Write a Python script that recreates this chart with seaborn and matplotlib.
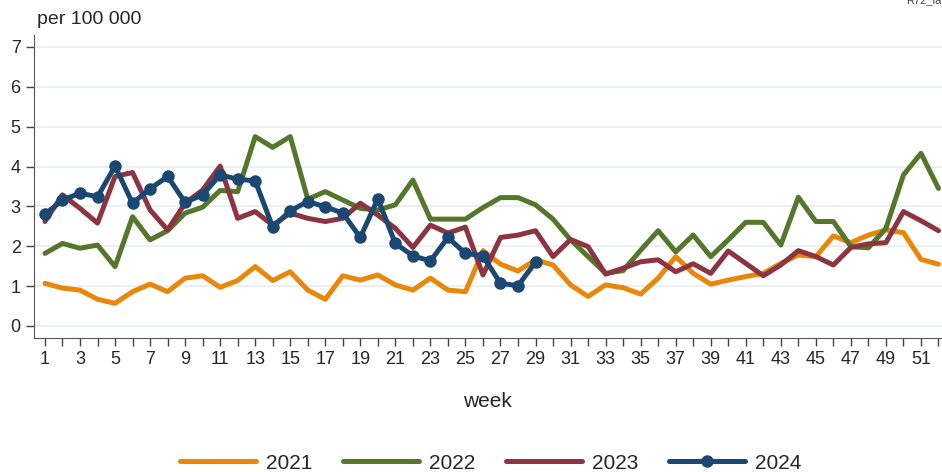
import matplotlib
matplotlib.use("Agg")
import matplotlib.pyplot as plt
import seaborn as sns

# --- data (rate per 100 000, by week) ---
weeks = list(range(1, 53))
weeks_2024 = list(range(1, 30))

rate_2021 = [1.07, 0.95, 0.90, 0.67, 0.57, 0.86, 1.05, 0.86, 1.20, 1.26,
             0.97, 1.14, 1.49, 1.14, 1.36, 0.90, 0.67, 1.26, 1.15, 1.28,
             1.03, 0.90, 1.20, 0.90, 0.86, 1.89, 1.55, 1.38, 1.66, 1.53,
             1.03, 0.74, 1.03, 0.96, 0.80, 1.20, 1.74, 1.32, 1.05, 1.15,
             1.24, 1.32, 1.57, 1.78, 1.74, 2.26, 2.09, 2.28, 2.41, 2.34,
             1.67, 1.55]
rate_2022 = [1.82, 2.07, 1.95, 2.03, 1.49, 2.74, 2.16, 2.39, 2.83, 2.98,
             3.40, 3.37, 4.75, 4.48, 4.75, 3.18, 3.37, 3.16, 2.95, 2.91,
             3.04, 3.66, 2.68, 2.68, 2.68, 2.97, 3.22, 3.22, 3.04, 2.68,
             2.16, 1.74, 1.32, 1.39, 1.90, 2.39, 1.86, 2.28, 1.74, 2.16,
             2.60, 2.60, 2.03, 3.23, 2.62, 2.62, 1.99, 1.96, 2.45, 3.79,
             4.33, 3.45]
rate_2023 = [2.62, 3.29, 2.95, 2.58, 3.75, 3.85, 2.91, 2.41, 3.08, 3.41,
             4.01, 2.70, 2.87, 2.53, 2.83, 2.70, 2.62, 2.70, 3.08, 2.78,
             2.45, 1.97, 2.53, 2.33, 2.48, 1.28, 2.22, 2.28, 2.39, 1.74,
             2.17, 1.99, 1.30, 1.45, 1.61, 1.66, 1.36, 1.56, 1.32, 1.88,
             1.57, 1.26, 1.53, 1.89, 1.74, 1.53, 1.97, 2.06, 2.09, 2.87,
             2.64, 2.39]
rate_2024 = [2.80, 3.16, 3.33, 3.24, 4.01, 3.08, 3.44, 3.75, 3.10, 3.29,
             3.79, 3.68, 3.64, 2.48, 2.89, 3.12, 2.99, 2.83, 2.22, 3.19,
             2.07, 1.76, 1.63, 2.22, 1.82, 1.76, 1.07, 1.01, 1.60]

series = [
    ("2021", weeks, rate_2021, "#E8870A", None),
    ("2022", weeks, rate_2022, "#55772C", None),
    ("2023", weeks, rate_2023, "#8C3541", None),
    ("2024", weeks_2024, rate_2024, "#1B4872", "o"),
]

sns.set_style("white")
plt.rcParams["font.family"] = ["Liberation Sans", "DejaVu Sans"]

fig = plt.figure(figsize=(9.42, 4.72), dpi=100)
ax = fig.add_axes([0.036, 0.284, 0.964, 0.642])

for name, x, y, col, mk in series:
    sns.lineplot(x=x, y=y, ax=ax, color=col, linewidth=3.6, label=name,
                 marker=mk, markersize=9, markeredgewidth=0)

ax.set_xlim(0.37, 52.2)
ax.set_ylim(-0.3, 7.3)
ax.set_xticks(weeks)
ax.set_xticklabels([str(w) if w % 2 == 1 else "" for w in weeks])
ax.set_yticks(range(0, 8))
ax.tick_params(axis="both", labelsize=13, length=6, width=1, color="#444444",
               direction="out", bottom=True, left=True)
ax.grid(axis="y", color="#e6edf2", linewidth=1.2)
ax.set_axisbelow(True)
sns.despine(ax=ax, top=True, right=True)
ax.spines["left"].set_color("#555555")
ax.spines["bottom"].set_color("#555555")

ax.set_xlabel("week", fontsize=15, labelpad=17)
ax.set_ylabel("")
fig.text(0.039, 0.958, "per 100 000", fontsize=14, ha="left", va="center")
fig.text(0.962, 1.0, "R72_lab", fontsize=8, ha="left", va="center",
         color="#444444")

ax.legend(loc="center", bbox_to_anchor=(0.521, 0.019),
          bbox_transform=fig.transFigure, ncol=4,
          frameon=False, fontsize=15, handlelength=3.65, columnspacing=1.45,
          handletextpad=0.5, borderpad=0.1)

fig.savefig("out.png", dpi=100)
